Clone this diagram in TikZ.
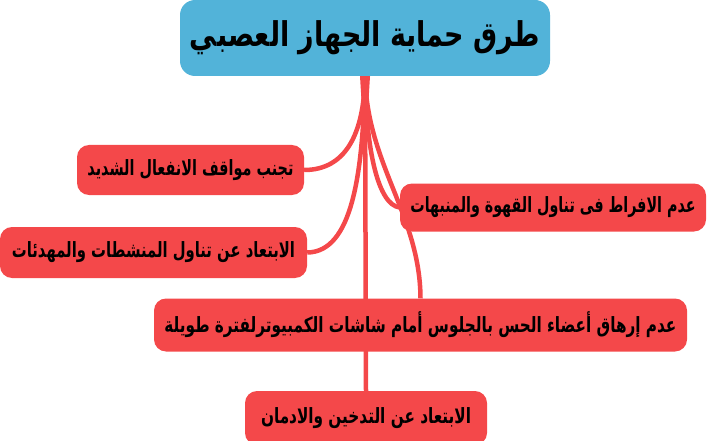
\documentclass[tikz,border=0pt]{standalone}
\usepackage{fontspec}
\usepackage{graphicx}
\usetikzlibrary{backgrounds}
\TeXXeTstate=1
\newfontfamily\arabicfont[Script=Arabic]{DejaVu Sans}
\newcommand{\fitar}[3]{\resizebox{#1}{#2\height}{#3}}
\definecolor{branchred}{HTML}{F4484A}
\definecolor{rootblue}{HTML}{52B3D9}
\tikzset{
  rootbox/.style={fill=rootblue, rounded corners=15pt, inner sep=0pt, minimum width=370pt, minimum height=76pt,
    font=\arabicfont\bfseries\fontsize{31}{36}\selectfont},
  leafbox/.style={fill=branchred, rounded corners=12pt, inner sep=0pt,
    font=\arabicfont\bfseries\fontsize{17.5}{21}\selectfont},
  link/.style={draw=branchred, line width=4.5pt},
}
\begin{document}
\begin{tikzpicture}[x=1pt,y=-1pt]
\useasboundingbox (0,0) rectangle (707,441);
\node[rootbox] (root) at (365,38) {\fitar{350pt}{1.1}{\beginR طرق حماية الجهاز العصبي\endR}};
\node[leafbox, minimum width=227pt, minimum height=50pt] (n1) at (190.5,170) {\fitar{206pt}{1.2}{\beginR تجنب مواقف الانفعال الشديد\endR}};
\node[leafbox, minimum width=307pt, minimum height=51pt] (n2) at (153.5,252.5) {\fitar{283pt}{1.2}{\beginR الابتعاد عن تناول المنشطات والمهدئات\endR}};
\node[leafbox, minimum width=306pt, minimum height=48pt] (n3) at (553,207.5) {\fitar{285pt}{1.2}{\beginR عدم الافراط فى تناول القهوة والمنبهات\endR}};
\node[leafbox, minimum width=533pt, minimum height=53pt] (n4) at (420.5,325) {\fitar{512pt}{1.2}{\beginR عدم إرهاق أعضاء الحس بالجلوس أمام شاشات الكمبيوترلفترة طويلة\endR}};
\node[leafbox, minimum width=242pt, minimum height=54pt] (n5) at (366,418) {\fitar{210pt}{1.2}{\beginR الابتعاد عن التدخين والادمان\endR}};
\coordinate (trunk) at (365,125);
\begin{scope}[on background layer]
  \fill[branchred] ([xshift=-5pt]root.south) -- ([xshift=5pt]root.south) -- ([xshift=2pt]trunk) -- ([xshift=-2pt]trunk) -- cycle;
  \draw[link] (root.south) .. controls (364,135) and (345,170) .. (n1.east);
  \draw[link] (root.south) .. controls (363,175) and (352,252) .. (n2.east);
  \draw[link] (root.south) -- (n5.north);
  \draw[link] (root.south) .. controls (366,150) and (378,205) .. (n3.west);
  \draw[link] (root.south) .. controls (367,165) and (420,215) .. (n4.north);
\end{scope}
\end{tikzpicture}
\end{document}
